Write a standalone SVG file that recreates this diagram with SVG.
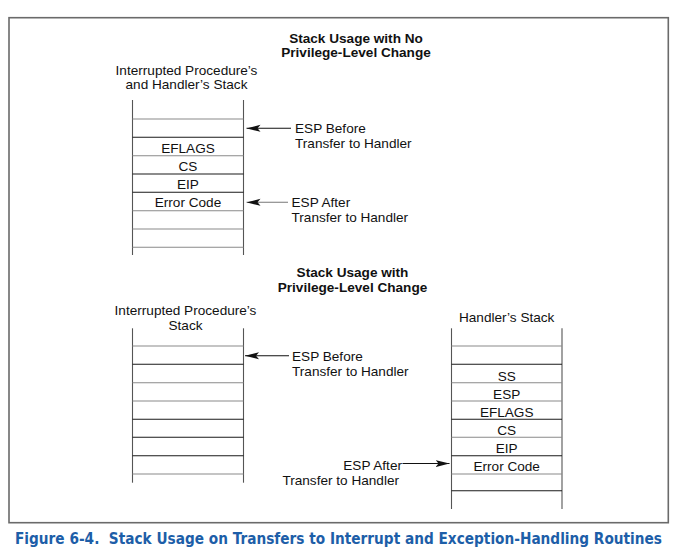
<svg xmlns="http://www.w3.org/2000/svg" width="683" height="554" viewBox="0 0 683 554">
<style>
text{font-family:"Liberation Sans",Arial,sans-serif;font-size:13.6px;fill:#111}
.t{font-weight:bold}
.m{text-anchor:middle}
.e{text-anchor:end}
.v{stroke:#555;stroke-width:1.1}
.k{stroke:#1a1a1a;stroke-width:1.1}
.g{stroke:#8a8a8a;stroke-width:1.1}
.a{stroke:#111;stroke-width:1.1;fill:none}
.cap{font-family:"DejaVu Sans Condensed","DejaVu Sans",sans-serif;font-stretch:condensed;font-weight:bold;font-size:16.5px;fill:#1d5ea8;white-space:pre}
</style>
<defs>
<marker id="ah" markerUnits="userSpaceOnUse" markerWidth="14" markerHeight="8" viewBox="0 0 14 8" refX="14" refY="4" orient="auto">
<path d="M0,0.5 L14,4 L0,7.5 L3,4 Z" fill="#111"/>
</marker>
</defs>
<rect x="0" y="0" width="683" height="554" fill="#fff"/>
<rect id="frame" x="9" y="17.7" width="659.3" height="505" fill="none" stroke="#6a6a6a" stroke-width="1.6"/>

<g id="title-top">
<text class="t m" x="356" y="42.7">Stack Usage with No</text>
<text class="t m" x="356" y="57.3">Privilege-Level Change</text>
</g>

<g id="stack-top">
<text class="m" x="186.5" y="75">Interrupted Procedure’s</text>
<text class="m" x="186.5" y="89.3">and Handler’s Stack</text>
<line class="v" x1="132.5" y1="100" x2="132.5" y2="255"/>
<line class="v" x1="243.5" y1="100" x2="243.5" y2="255"/>
<line class="g" x1="132.5" y1="119" x2="243.5" y2="119"/>
<line class="k" x1="132.5" y1="137.3" x2="243.5" y2="137.3"/>
<line class="g" x1="132.5" y1="155.7" x2="243.5" y2="155.7"/>
<line class="k" x1="132.5" y1="174" x2="243.5" y2="174"/>
<line class="k" x1="132.5" y1="192.3" x2="243.5" y2="192.3"/>
<line class="g" x1="132.5" y1="210.7" x2="243.5" y2="210.7"/>
<line class="g" x1="132.5" y1="229" x2="243.5" y2="229"/>
<line class="g" x1="132.5" y1="247.3" x2="243.5" y2="247.3"/>
<text class="m" x="188" y="152.5">EFLAGS</text>
<text class="m" x="188" y="170.8">CS</text>
<text class="m" x="188" y="188.8">EIP</text>
<text class="m" x="188" y="207">Error Code</text>
</g>

<g id="title-bottom">
<text class="t m" x="352.5" y="276.7">Stack Usage with</text>
<text class="t m" x="352.5" y="291.7">Privilege-Level Change</text>
</g>

<g id="stack-interrupted">
<text class="m" x="185.5" y="315">Interrupted Procedure’s</text>
<text class="m" x="185.5" y="330">Stack</text>
<line class="v" x1="132.5" y1="328.3" x2="132.5" y2="482.7"/>
<line class="v" x1="243.5" y1="328.3" x2="243.5" y2="482.7"/>
<line class="g" x1="132.5" y1="346" x2="243.5" y2="346"/>
<line class="k" x1="132.5" y1="364.3" x2="243.5" y2="364.3"/>
<line class="g" x1="132.5" y1="382.7" x2="243.5" y2="382.7"/>
<line class="g" x1="132.5" y1="401" x2="243.5" y2="401"/>
<line class="k" x1="132.5" y1="419.3" x2="243.5" y2="419.3"/>
<line class="k" x1="132.5" y1="437.3" x2="243.5" y2="437.3"/>
<line class="k" x1="132.5" y1="455.7" x2="243.5" y2="455.7"/>
<line class="g" x1="132.5" y1="474" x2="243.5" y2="474"/>
</g>

<g id="stack-handler">
<text class="m" x="506.7" y="321.7">Handler’s Stack</text>
<line class="v" x1="451.5" y1="328.3" x2="451.5" y2="509"/>
<line class="v" x1="562" y1="328.3" x2="562" y2="509"/>
<line class="g" x1="451.5" y1="346" x2="562" y2="346"/>
<line class="k" x1="451.5" y1="364.3" x2="562" y2="364.3"/>
<line class="g" x1="451.5" y1="382.7" x2="562" y2="382.7"/>
<line class="g" x1="451.5" y1="401" x2="562" y2="401"/>
<line class="k" x1="451.5" y1="419.3" x2="562" y2="419.3"/>
<line class="g" x1="451.5" y1="437.3" x2="562" y2="437.3"/>
<line class="k" x1="451.5" y1="455.7" x2="562" y2="455.7"/>
<line class="g" x1="451.5" y1="474" x2="562" y2="474"/>
<line class="k" x1="451.5" y1="490.7" x2="562" y2="490.7"/>
<text class="m" x="506.7" y="380.5">SS</text>
<text class="m" x="506.7" y="398.5">ESP</text>
<text class="m" x="506.7" y="416.5">EFLAGS</text>
<text class="m" x="506.7" y="434.5">CS</text>
<text class="m" x="506.7" y="452.6">EIP</text>
<text class="m" x="506.7" y="470.8">Error Code</text>
</g>

<g id="connectors">
<line class="a" x1="291" y1="128.3" x2="246.5" y2="128.3" marker-end="url(#ah)"/>
<line class="a" style="stroke:#777" x1="288" y1="202.3" x2="246.5" y2="202.3" marker-end="url(#ah)"/>
<line class="a" x1="289" y1="355.7" x2="245" y2="355.7" marker-end="url(#ah)"/>
<line class="a" x1="402.5" y1="463.5" x2="449.5" y2="463.5" marker-end="url(#ah)"/>
</g>

<g id="labels">
<text x="295" y="133.3">ESP Before</text>
<text x="295" y="148.3">Transfer to Handler</text>
<text x="291.5" y="207.3">ESP After</text>
<text x="291.5" y="221.7">Transfer to Handler</text>
<text x="292" y="360.7">ESP Before</text>
<text x="292" y="375.7">Transfer to Handler</text>
<text class="e" x="402" y="470">ESP After</text>
<text class="e" x="399" y="485">Transfer to Handler</text>
</g>

<text class="cap" transform="translate(15,544) scale(0.82,1)" x="0" y="0" textLength="789" lengthAdjust="spacingAndGlyphs">Figure 6-4.  Stack Usage on Transfers to Interrupt and Exception-Handling Routines</text>
</svg>
